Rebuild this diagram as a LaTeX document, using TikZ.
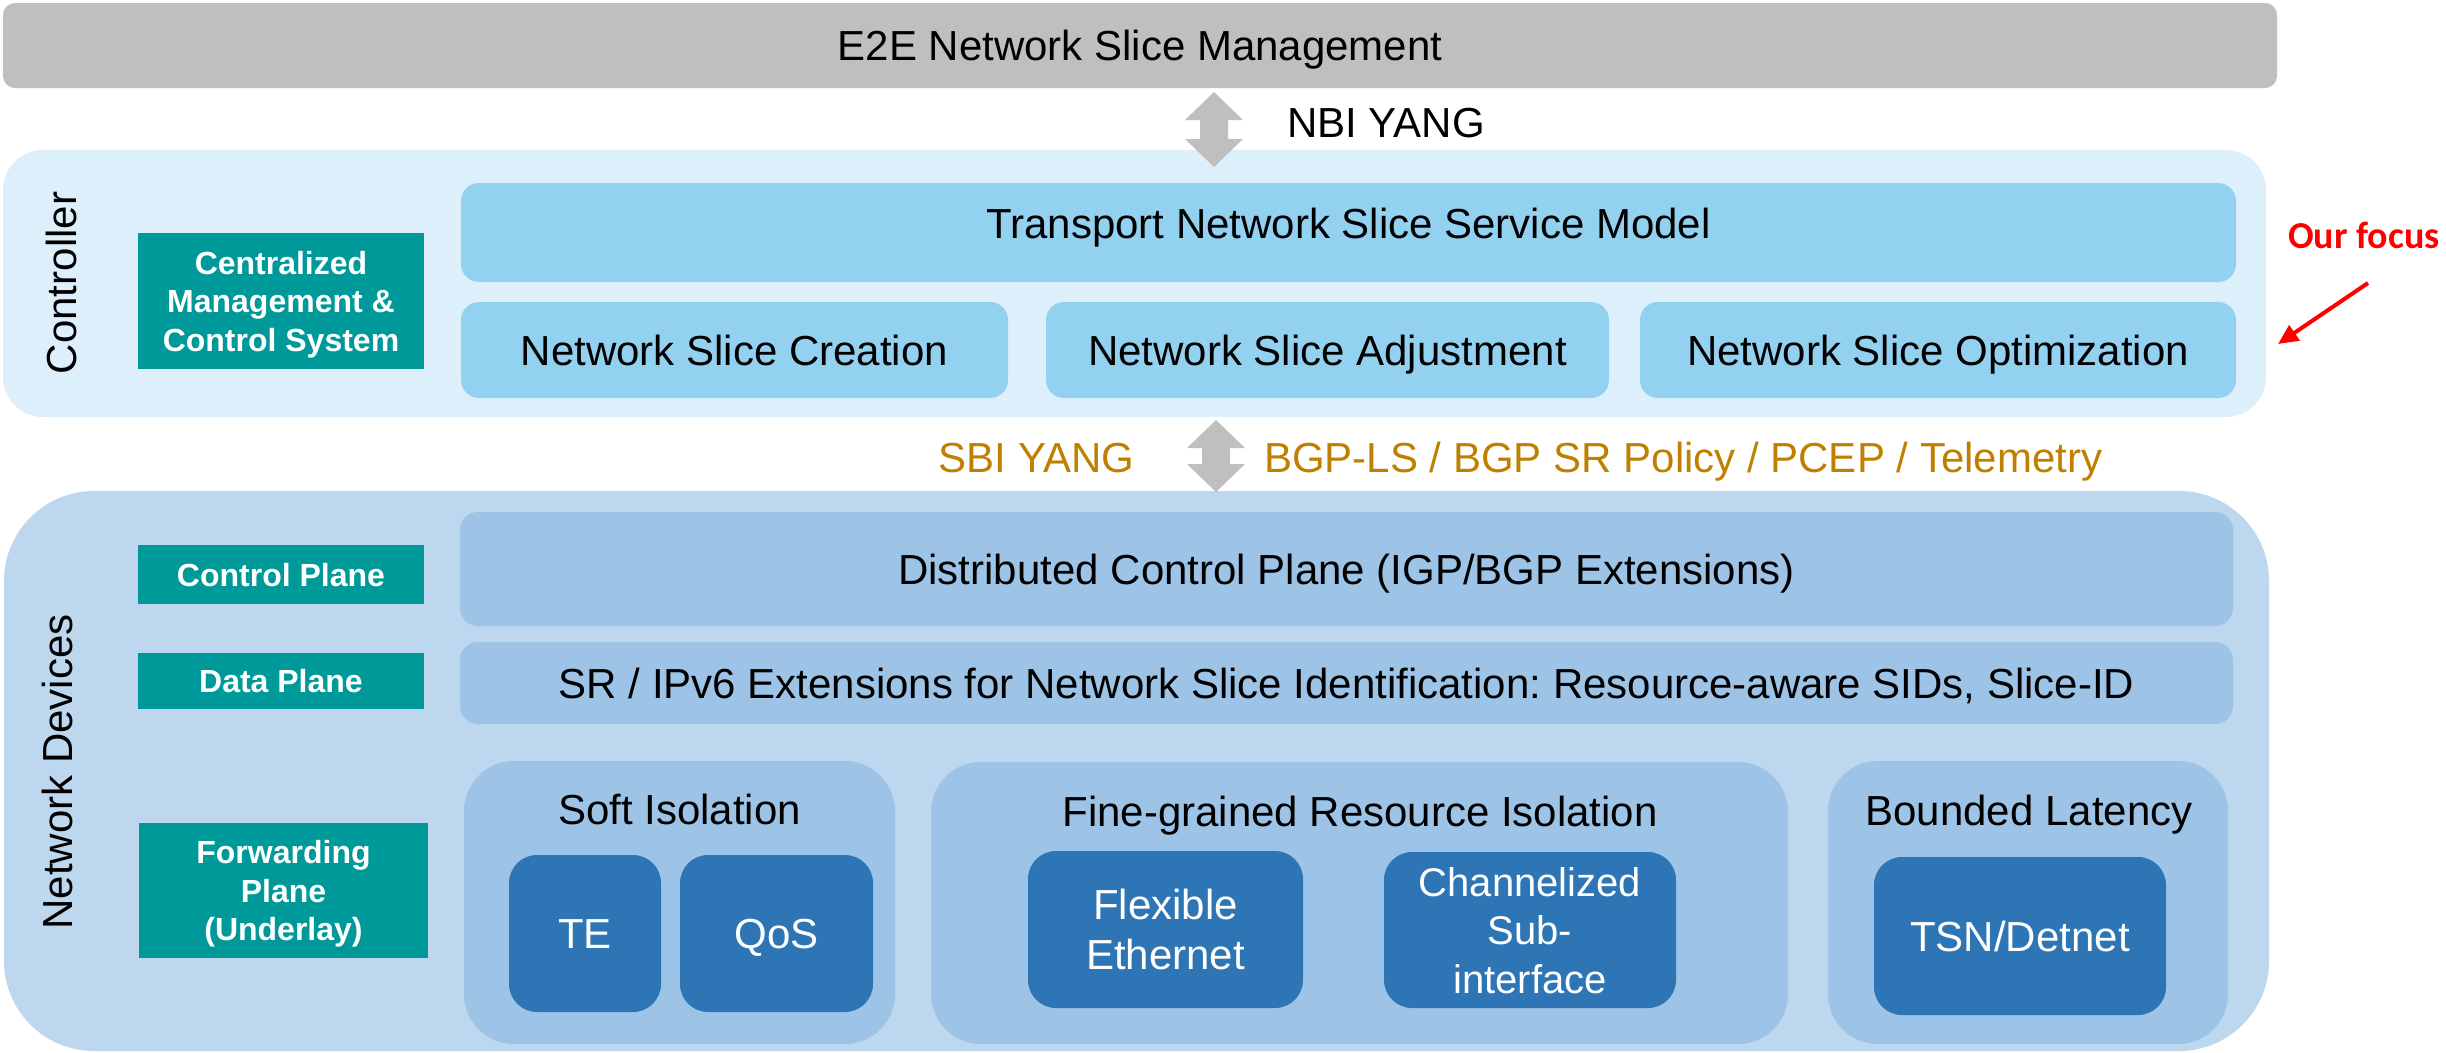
\documentclass[tikz,border=0pt]{standalone}
\usepackage{fontspec}
\setmainfont{Liberation Sans}
\newfontfamily\focusfont{Carlito}
\usetikzlibrary{arrows.meta,calc}
\frenchspacing

\definecolor{barGray}{HTML}{BFBFBF}
\definecolor{ctrlBg}{HTML}{DDEFFA}
\definecolor{ctrlBox}{HTML}{93D1F1}
\definecolor{devBg}{HTML}{BDD7EE}
\definecolor{devBox}{HTML}{9DC3E6}
\definecolor{devDark}{HTML}{2E75B6}
\definecolor{planeTeal}{HTML}{009999}
\definecolor{protoGold}{HTML}{BF8000}
\definecolor{focusRed}{HTML}{FF0000}

% wide two-headed block arrow between two tip points (top, bottom)
\newcommand\ifaceArrow[2]{%
  \fill[barGray] (#1) -- ++(29,28) -- ++(-15,0) -- ($(#2)+(14,-28)$) -- ++(15,0)
    -- (#2) -- ++(-29,-28) -- ++(15,0) -- ($(#1)+(-14,28)$) -- ++(-15,0) -- cycle;}

\begin{document}
\begin{tikzpicture}[x=1pt,y=-1pt,
  panel/.style={inner sep=0pt, outer sep=0pt},
  big/.style={inner sep=0pt, font=\fontsize{42pt}{50.4pt}\selectfont, text height=30pt, text depth=0pt},
  bigml/.style={inner sep=0pt, font=\fontsize{42pt}{50.4pt}\selectfont, align=center, text depth=0pt},
  plane/.style={panel, fill=planeTeal, text=white, font=\bfseries\fontsize{32pt}{38.5pt}\selectfont, align=center, text depth=0pt},
  ctrlitem/.style={panel, fill=ctrlBox, rounded corners=18pt, big},
  devitem/.style={panel, fill=devBox, rounded corners=18pt, big},
  group/.style={panel, fill=devBox, rounded corners=50pt},
  mech/.style={panel, fill=devDark, rounded corners=28pt, text=white},
]
\useasboundingbox (0,0) rectangle (2446,1052);

% management layer
\node[panel, fill=barGray, rounded corners=12pt, minimum width=2274pt, minimum height=85pt, big] (bar) at (1140,45.5) {E2E Network Slice Management};

% layer backgrounds
\node[panel, fill=ctrlBg, rounded corners=40pt, minimum width=2263pt, minimum height=267pt] (ctrl) at (1134.5,283.5) {};
\node[panel, fill=devBg, rounded corners=90pt, minimum width=2265pt, minimum height=560pt] (dev) at (1136.5,771) {};

% controller
\node[big, rotate=90] (ctrlLbl) at (61.5,283) {Controller};
\node[plane, minimum width=286pt, minimum height=136pt] (cmcs) at (281,301) {Centralized\\Management \&\\Control System};
\node[ctrlitem, minimum width=1775pt, minimum height=99pt] (tnssm) at (1348.5,232.5) {};
\node[big] (tnssmT) at (1348.5,223) {Transport Network Slice Service Model};
\node[ctrlitem, minimum width=547pt, minimum height=96pt] (create) at (734.5,350) {Network Slice Creation};
\node[ctrlitem, minimum width=563pt, minimum height=96pt] (adjust) at (1327.5,350) {Network Slice Adjustment};
\node[ctrlitem, minimum width=596pt, minimum height=96pt] (optim) at (1938,350) {Network Slice Optimization};

% network devices
\node[big, rotate=90] (devLbl) at (57.5,772) {Network Devices};
\node[plane, text height=23pt, minimum width=286pt, minimum height=59pt] (cp) at (281,574.5) {Control Plane};
\node[plane, text height=23pt, minimum width=286pt, minimum height=56pt] (dp) at (281,681) {Data Plane};
\node[plane, minimum width=289pt, minimum height=135pt] (fp) at (283.5,890.5) {Forwarding\\Plane\\(Underlay)};
\node[devitem, minimum width=1773pt, minimum height=114pt] (dcp) at (1346.5,569) {Distributed Control Plane (IGP/BGP Extensions)};
\node[devitem, minimum width=1773pt, minimum height=82pt] (srx) at (1346.5,683) {SR / IPv6 Extensions for Network Slice Identification: Resource-aware SIDs, Slice-ID};

% forwarding plane isolation groups
\node[group, minimum width=431pt, minimum height=283pt] (soft) at (679.5,902.5) {};
\node[big] (softT) at (679.5,809) {Soft Isolation};
\node[group, minimum width=857pt, minimum height=282pt] (fine) at (1359.5,903) {};
\node[big] (fineT) at (1360,811) {Fine-grained Resource Isolation};
\node[group, minimum width=400pt, minimum height=283pt] (bnd) at (2028,902.5) {};
\node[big] (bndT) at (2029,810) {Bounded Latency};

\node[mech, big, minimum width=152pt, minimum height=157pt] (te) at (585,933.5) {TE};
\node[mech, big, minimum width=193pt, minimum height=157pt] (qos) at (776.5,933.5) {QoS};
\node[mech, bigml, minimum width=275pt, minimum height=157pt] (flex) at (1165.5,929.5) {Flexible\\Ethernet};
\node[mech, align=center, text depth=0pt, font=\fontsize{40pt}{48.5pt}\selectfont, minimum width=292pt, minimum height=156pt] (chan) at (1530,930) {Channelized\\Sub-\\interface};
\node[mech, big, minimum width=292pt, minimum height=158pt] (tsn) at (2020,936) {TSN/Detnet};

% interfaces between layers
\coordinate (nbiTop) at (1214,92);
\coordinate (nbiBot) at (1214,167);
\ifaceArrow{nbiTop}{nbiBot}
\node[big, anchor=west] (nbi) at (1287,122) {NBI YANG};

\coordinate (sbiTop) at (1216,420);
\coordinate (sbiBot) at (1216,492);
\ifaceArrow{sbiTop}{sbiBot}
\node[big, text=protoGold] (sbi) at (1036.5,457) {SBI YANG};
\node[big, text=protoGold, anchor=west] (proto) at (1264,457) {BGP-LS / BGP SR Policy / PCEP / Telemetry};

% focus marker
\node[anchor=base west, inner sep=0pt, text=focusRed, font=\focusfont\bfseries\fontsize{38pt}{45pt}\selectfont] (focus) at (2288,248) {Our focus};
\coordinate (focusTail) at (2368,283);
\coordinate (focusTip) at (2278,344);
\draw[focusRed, line width=4pt, -{Triangle[length=20pt,width=18pt]}] (focusTail) -- (focusTip);
\end{tikzpicture}
\end{document}
